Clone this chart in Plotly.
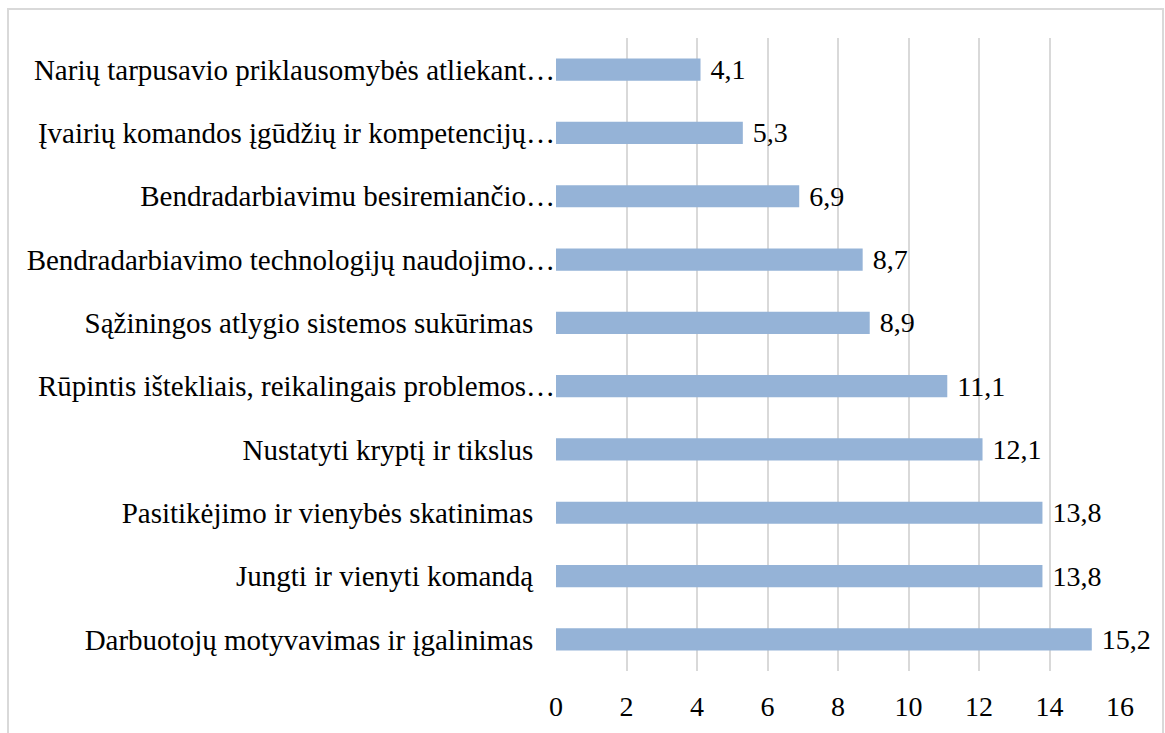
import plotly.graph_objects as go

categories = [
    "Darbuotojų motyvavimas ir įgalinimas",
    "Jungti ir vienyti komandą",
    "Pasitikėjimo ir vienybės skatinimas",
    "Nustatyti kryptį ir tikslus",
    "Rūpintis ištekliais, reikalingais problemos…",
    "Sąžiningos atlygio sistemos sukūrimas",
    "Bendradarbiavimo technologijų naudojimo…",
    "Bendradarbiavimu besiremiančio…",
    "Įvairių komandos įgūdžių ir kompetencijų…",
    "Narių tarpusavio priklausomybės atliekant…",
]
values = [15.2, 13.8, 13.8, 12.1, 11.1, 8.9, 8.7, 6.9, 5.3, 4.1]
x_ticks = [0, 2, 4, 6, 8, 10, 12, 14, 16]

FONT = "Liberation Serif, Times New Roman, serif"
W, H = 1165, 733
L, R, T, B = 556, 45, 38, 62

tick_text = [c if c.endswith("…") else c + "\u00a0" * 3 for c in categories]
value_text = ["\u00a0" + f"{v:.1f}".replace(".", ",") for v in values]

fig = go.Figure(
    go.Bar(
        x=values,
        y=categories,
        orientation="h",
        marker=dict(color="#95B3D7", line=dict(width=0)),
        width=0.35,
        text=value_text,
        textposition="outside",
        constraintext="none",
        textfont=dict(family=FONT, size=28, color="#000000"),
        cliponaxis=False,
        hoverinfo="skip",
    )
)

pw = W - L - R
ph = H - T - B


def px_x(p):
    return (p - L) / pw


def px_y(p):
    return (H - B - p) / ph


fig.update_layout(
    width=W,
    height=H,
    margin=dict(l=L, r=R, t=T, b=B, pad=0),
    paper_bgcolor="white",
    plot_bgcolor="white",
    font=dict(family=FONT, size=28, color="#000000"),
    showlegend=False,
    xaxis=dict(
        range=[0, 16],
        tickvals=x_ticks,
        ticktext=[str(t) for t in x_ticks],
        showgrid=True,
        gridcolor="#D9D9D9",
        gridwidth=2,
        zeroline=False,
        showline=False,
        ticks="outside",
        ticklen=10,
        tickcolor="rgba(0,0,0,0)",
        tickfont=dict(family=FONT, size=28),
    ),
    yaxis=dict(
        categoryorder="array",
        categoryarray=categories,
        tickvals=categories,
        ticktext=tick_text,
        showgrid=False,
        zeroline=False,
        showline=False,
        ticks="",
        ticklabelstandoff=0,
        tickfont=dict(family=FONT, size=29),
    ),
    shapes=[
        dict(
            type="rect",
            xref="paper",
            yref="paper",
            x0=px_x(8),
            x1=px_x(1163),
            y0=px_y(760),
            y1=px_y(9),
            line=dict(color="#D9D9D9", width=2),
            fillcolor="rgba(0,0,0,0)",
            layer="below",
        )
    ],
)

fig.write_html(
    "out.html",
    config={"displayModeBar": False},
    post_script="document.body.style.margin='0';document.body.style.overflow='hidden';",
)
